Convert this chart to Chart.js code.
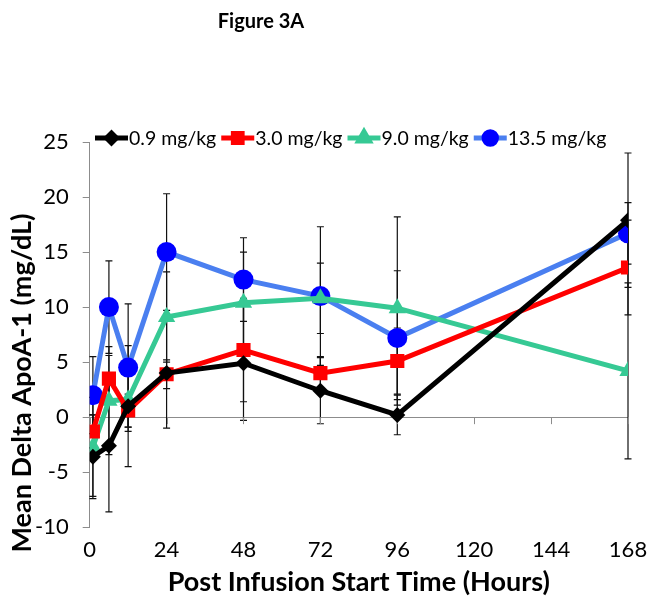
<!DOCTYPE html>
<html>
<head>
<meta charset="utf-8">
<script src="https://cdn.jsdelivr.net/npm/chart.js@4/dist/chart.umd.min.js"></script>
<style>
  html, body { margin: 0; padding: 0; background: #fff; }
  #wrap { width: 652px; height: 608px; }
</style>
</head>
<body>
<div id="wrap"><canvas id="c" width="652" height="608"></canvas></div>
<script>
// time points (hours)
const hours = [1, 6, 12, 24, 48, 72, 96, 168];
const xTicks = [0, 24, 48, 72, 96, 120, 144, 168];

// mean delta ApoA-1 per dose group
const dose09 = [-3.6, -2.6, 1.0, 4.0, 4.9, 2.4, 0.2, 17.9];
const dose30 = [-1.3, 3.5, 0.6, 3.9, 6.1, 4.0, 5.1, 13.6];
const dose90 = [-2.7, 1.5, 1.6, 9.1, 10.4, 10.8, 9.9, 4.2];
const dose135 = [2.0, 10.0, 4.5, 15.0, 12.5, 11.0, 7.2, 16.7];

// error bar half-widths
const err09 = [3.8, 6.0, 5.5, 5.0, 5.2, 3.0, 1.8, 6.1];
const err30 = [1.5, 2.1, 1.5, 1.3, 4.7, 1.5, 3.0, 4.3];
const err90 = [4.5, 4.9, 2.5, 4.1, 4.6, 3.2, 8.3, 8.0];
const err135 = [3.5, 4.2, 5.8, 5.3, 3.8, 6.3, 6.1, 2.8];

const labels = ["0.9 mg/kg", "3.0 mg/kg", "9.0 mg/kg", "13.5 mg/kg"];

const FONT = "Lato, 'Open Sans', sans-serif";

function pts(vals) {
  return vals.map((v, i) => ({ x: hours[i], y: v }));
}

const series = [
  { label: labels[0], data: dose09, err: err09, line: "#000000", fill: "#000000", style: "rectRot", r: 8 },
  { label: labels[1], data: dose30, err: err30, line: "#ff0000", fill: "#ff0000", style: "rect", r: 10 },
  { label: labels[2], data: dose90, err: err90, line: "#36c994", fill: "#36c994", style: "triangle", r: 10 },
  { label: labels[3], data: dose135, err: err135, line: "#4a7ff0", fill: "#0000ff", style: "circle", r: 10 }
];

// error bars drawn behind the lines
const errorBars = {
  id: "errorBars",
  beforeDatasetsDraw(chart) {
    const { ctx, scales: { x, y } } = chart;
    ctx.save();
    ctx.strokeStyle = "#111";
    ctx.lineWidth = 1.2;
    series.forEach(s => {
      s.data.forEach((v, i) => {
        const px = x.getPixelForValue(hours[i]);
        const top = y.getPixelForValue(v + s.err[i]);
        const bot = y.getPixelForValue(v - s.err[i]);
        ctx.beginPath();
        ctx.moveTo(px, top); ctx.lineTo(px, bot);
        ctx.moveTo(px - 3.5, top); ctx.lineTo(px + 3.5, top);
        ctx.moveTo(px - 3.5, bot); ctx.lineTo(px + 3.5, bot);
        ctx.stroke();
      });
    });
    ctx.restore();
  }
};

// x axis crosses at y = 0 with small tick marks
const zeroAxisTicks = {
  id: "zeroAxisTicks",
  beforeDatasetsDraw(chart) {
    const { ctx, scales: { x, y } } = chart;
    const y0 = y.getPixelForValue(0);
    ctx.save();
    ctx.strokeStyle = "#8c8c8c";
    ctx.lineWidth = 1;
    xTicks.forEach(t => {
      const px = Math.round(x.getPixelForValue(t)) + 0.5;
      ctx.beginPath();
      ctx.moveTo(px, y0);
      ctx.lineTo(px, y0 + 7);
      ctx.stroke();
    });
    ctx.restore();
  }
};

// figure caption, y title and the line+marker legend
const extras = {
  id: "extras",
  afterDraw(chart) {
    const { ctx } = chart;
    ctx.save();
    ctx.fillStyle = "#000";
    ctx.textAlign = "center";
    ctx.textBaseline = "middle";
    ctx.font = "bold 20px " + FONT;
    ctx.fillText("Figure 3A", 261, 22);

    ctx.save();
    ctx.translate(22, 383);
    ctx.rotate(-Math.PI / 2);
    ctx.font = "bold 27px " + FONT;
    ctx.fillText("Mean Delta ApoA-1 (mg/dL)", 0, 0);
    ctx.restore();

    const cy = 138;
    let cx = 95;
    ctx.font = "19.5px " + FONT;
    ctx.textAlign = "left";
    series.forEach(s => {
      ctx.strokeStyle = s.line;
      ctx.lineWidth = 5;
      ctx.beginPath();
      ctx.moveTo(cx, cy); ctx.lineTo(cx + 33, cy);
      ctx.stroke();
      ctx.fillStyle = s.fill;
      ctx.strokeStyle = s.fill;
      Chart.helpers.drawPoint(ctx, {
        pointStyle: s.style, radius: s.r * 0.62, borderWidth: 1, rotation: 0
      }, cx + 16.5, cy);
      ctx.fillStyle = "#000";
      ctx.fillText(s.label, cx + 34, cy + 1);
      cx += 34 + ctx.measureText(s.label).width + 5;
    });
    ctx.restore();
  }
};

new Chart(document.getElementById("c"), {
  type: "line",
  data: {
    datasets: series.map(s => ({
      label: s.label,
      data: pts(s.data),
      borderColor: s.line,
      backgroundColor: s.fill,
      borderWidth: 5,
      pointStyle: s.style,
      pointRadius: s.r,
      pointBackgroundColor: s.fill,
      pointBorderColor: s.fill,
      pointBorderWidth: 0,
      tension: 0
    }))
  },
  options: {
    responsive: false,
    animation: false,
    layout: { padding: { top: 142, left: 21, right: 24, bottom: 10 } },
    plugins: {
      legend: { display: false },
      tooltip: { enabled: false },
      title: { display: false }
    },
    scales: {
      x: {
        type: "linear",
        min: 0,
        max: 168,
        afterBuildTicks: axis => { axis.ticks = xTicks.map(v => ({ value: v })); },
        grid: { display: false },
        border: { display: false },
        ticks: { color: "#000", font: { family: FONT, size: 22 }, padding: 2, maxRotation: 0 },
        title: {
          display: true,
          text: "Post Infusion Start Time (Hours)",
          color: "#000",
          font: { family: FONT, size: 27, weight: "bold" },
          padding: { top: 0, bottom: 0 }
        }
      },
      y: {
        min: -10,
        max: 25,
        ticks: { stepSize: 5, color: "#000", font: { family: FONT, size: 22 }, padding: 14 },
        grid: {
          color: c => (c.tick && c.tick.value === 0 ? "#8c8c8c" : "rgba(0,0,0,0)"),
          tickColor: "#8c8c8c",
          tickLength: 7,
          drawOnChartArea: true
        },
        border: { display: true, color: "#8c8c8c" }
      }
    }
  },
  plugins: [errorBars, zeroAxisTicks, extras]
});
</script>
</body>
</html>
